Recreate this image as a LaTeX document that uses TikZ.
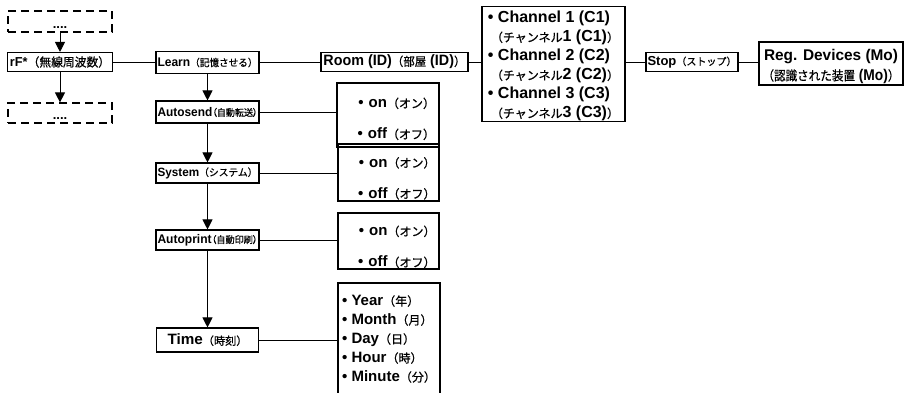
\documentclass[tikz,border=0pt]{standalone}
\usepackage{fontspec}
\usepackage{graphicx}
\setmainfont{Liberation Sans}
\newfontfamily\jpfont[FakeBold=0.7]{Noto Sans CJK JP}
\newfontfamily\jpfontp[FakeBold=0.7,RawFeature=+palt]{Noto Sans CJK JP}
\usetikzlibrary{arrows.meta}
\newcommand\jtxt[2]{{\jpfont\fontsize{#1pt}{#1pt}\selectfont #2}}
\newcommand\jptxt[2]{{\jpfontp\fontsize{#1pt}{#1pt}\selectfont #2}}
\newcommand\etxt[2]{{\bfseries\fontsize{#1pt}{#1pt}\selectfont #2}}
\newcommand\fitto[2]{\resizebox{#1pt}{\height}{#2}}
\newcommand\strutto[1]{\rule{0pt}{#1pt}}
\begin{document}
\begin{tikzpicture}[x=1pt,y=-1pt,
  box/.style={draw, line width=1.1pt, inner sep=0pt},
  dbox/.style={draw, dash pattern=on 8pt off 5pt, line width=1.2pt, inner sep=0pt},
  conn/.style={line width=1pt},
  arr/.style={line width=1pt, -{Triangle[length=10pt,width=10pt]}},
  dots/.style={font=\bfseries\fontsize{13pt}{13pt}\selectfont},
  onoff/.style={box, text width=94pt, align=right, font=\fontsize{15pt}{31pt}\selectfont}
]
\fill[white] (0,0) rectangle (912,392);
\useasboundingbox (0,0) rectangle (912,392);

% left column
\node[dbox, minimum width=104pt, minimum height=21pt,
  label={[dots,anchor=base,yshift=-6pt]center:....}] (dtop) at (60,21.5) {};
\node[box, minimum width=105pt, minimum height=19pt] (rf) at (60,62)
  {\fitto{100}{\etxt{13}{rF*}\jtxt{12}{（無線周波数）}}};
\node[dbox, minimum width=104pt, minimum height=20pt,
  label={[dots,anchor=base,yshift=-6pt]center:....}] (dbot) at (60,113) {};

% second column
\node[box, minimum width=103pt, minimum height=22pt] (learn) at (207.5,62.5)
  {\fitto{100}{\etxt{12.5}{Learn}\jtxt{10}{（記憶させる）}}};
\node[box, minimum width=103pt, minimum height=22pt] (auto) at (207.5,112)
  {\fitto{100}{\etxt{12.5}{Autosend}\jptxt{9.5}{（自動転送）}}};
\node[box, minimum width=103pt, minimum height=20pt] (sys) at (207.5,173)
  {\fitto{100}{\etxt{12}{System}\jtxt{10}{（システム）}}};
\node[box, minimum width=103pt, minimum height=20pt] (aprint) at (207.5,240)
  {\fitto{100}{\etxt{12.5}{Autoprint}\jptxt{9.5}{（自動印刷）}}};
\node[box, minimum width=102pt, minimum height=24pt] (time) at (207.5,340)
  {\fitto{80}{\etxt{15}{Time}\jtxt{11}{（時刻）}}};

% option boxes
\node[onoff, minimum width=102pt, minimum height=64pt] (on1) at (388,115)
  {\strutto{18}\etxt{15}{• on}\jtxt{12}{（オン）}\\\etxt{15}{• off}\jtxt{12}{（オフ）}};
\node[onoff, minimum width=101pt, minimum height=57pt] (on2) at (388.5,172.5)
  {\strutto{22}\etxt{15}{• on}\jtxt{12}{（オン）}\\\etxt{15}{• off}\jtxt{12}{（オフ）}};
\node[onoff, minimum width=101pt, minimum height=56pt] (on3) at (388.5,241)
  {\strutto{22}\etxt{15}{• on}\jtxt{12}{（オン）}\\\etxt{15}{• off}\jtxt{12}{（オフ）}};
\node[box, minimum width=102pt, minimum height=112pt, align=left,
  font=\fontsize{15pt}{19pt}\selectfont] (tlist) at (389,339)
  {\etxt{15}{• Year}\jtxt{12}{（年）}\\
   \etxt{15}{• Month}\jtxt{12}{（月）}\\
   \etxt{15}{• Day}\jtxt{12}{（日）}\\
   \etxt{15}{• Hour}\jtxt{12}{（時）}\\
   \etxt{15}{• Minute}\jtxt{12}{（分）}};

% top row
\node[box, minimum width=147pt, minimum height=19pt] (room) at (394.5,62)
  {\fitto{142}{\etxt{15}{Room (ID)}\jtxt{12}{（部屋}\etxt{15}{ (ID)}\jtxt{12}{）}}};
\node[box, minimum width=143pt, minimum height=110pt, align=left,
  font=\fontsize{16pt}{19pt}\selectfont] (chan) at (553.5,64)
  {\strutto{16}\etxt{16}{• Channel 1 (C1)}\\
   \hspace*{3pt}\jtxt{12}{（チャンネル}\etxt{16}{1 (C1)}\jtxt{12}{）}\\
   \etxt{16}{• Channel 2 (C2)}\\
   \hspace*{3pt}\jtxt{12}{（チャンネル}\etxt{16}{2 (C2)}\jtxt{12}{）}\\
   \etxt{16}{• Channel 3 (C3)}\\
   \hspace*{3pt}\jtxt{12}{（チャンネル}\etxt{16}{3 (C3)}\jtxt{12}{）}};
\node[box, minimum width=92pt, minimum height=19pt] (stop) at (692,62)
  {\fitto{89}{\etxt{13}{Stop}\jtxt{10}{（ストップ）}}};
\node[box, minimum width=144pt, minimum height=43pt, align=center,
  font=\fontsize{15.5pt}{20pt}\selectfont] (reg) at (831,63.5)
  {\strutto{17}\fitto{134}{\etxt{15.5}{Reg. Devices (Mo)}}\\
   \fitto{137}{\jtxt{13}{（認識された装置}\etxt{15.5}{ (Mo)}\jtxt{13}{）}}};

% connectors
\draw[arr] (dtop) -- (rf);
\draw[arr] (rf) -- (dbot);
\draw[conn] (rf.east) -- (rf.east -| learn.west);
\draw[conn] (learn.east) -- (learn.east -| room.west);
\draw[conn] (room.east) -- (room.east -| chan.west);
\draw[conn] (stop.west -| chan.east) -- (stop.west);
\draw[conn] (stop.east) -- (stop.east -| reg.west);
\draw[arr] (learn) -- (auto);
\draw[arr] (auto) -- (sys);
\draw[arr] (sys) -- (aprint);
\draw[arr] (aprint) -- (time);
\draw[conn] (auto.east) -- (auto.east -| on1.west);
\draw[conn] (sys.east) -- (sys.east -| on2.west);
\draw[conn] (aprint.east) -- (aprint.east -| on3.west);
\draw[conn] (time.east) -- (time.east -| tlist.west);
\end{tikzpicture}
\end{document}
